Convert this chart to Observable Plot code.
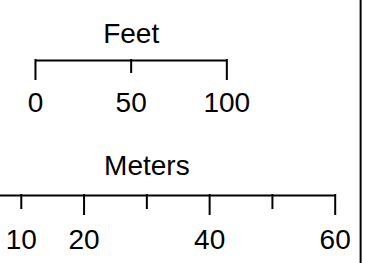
<!DOCTYPE html>
<html>
<head>
<meta charset="utf-8">
<script src="https://cdn.jsdelivr.net/npm/d3@7"></script>
<script src="https://cdn.jsdelivr.net/npm/@observablehq/plot@0.6"></script>
<style>
  html, body { margin: 0; padding: 0; background: #fff; }
  svg { display: block; }
</style>
</head>
<body>
<div id="chart"></div>
<script>
// Data
const feetTicks = [0, 50, 100];
const feetLabels = ["0", "50", "100"];
const meterTicks = [10, 20, 30, 40, 50, 60];
const meterLabels = [10, 20, 40, 60];
const feetTitle = "Feet";
const meterTitle = "Meters";

// layout (meters-based x scale)
const FT = 0.3048;
const feetOrigin = 12.26;           // where 0 ft sits on the meter axis
const toM = f => feetOrigin + f * FT;
const frameX = 64.05;

const font = "Arial, Liberation Sans, Helvetica, sans-serif";
const FS = 28;

const chart = Plot.plot({
  width: 367,
  height: 263,
  margin: 0,
  style: { fontFamily: font, background: "#fff" },
  x: { domain: [0, 60], range: [-42, 334.7], axis: null },
  y: { domain: [0, 263], range: [0, 263], axis: null },
  marks: [
    // Feet bar
    Plot.ruleY([60], { x1: toM(0), x2: toM(100), stroke: "#000", strokeWidth: 2 }),
    Plot.ruleX(feetTicks, { x: d => toM(d), y1: 59, y2: d => (d === 50 ? 73 : 80), stroke: "#000", strokeWidth: 2 }),
    Plot.text(feetTicks, { x: d => toM(d), y: 102.5, text: (d, i) => feetLabels[i], fontSize: FS, fill: "#000" }),
    Plot.text([feetTitle], { x: toM(50), y: 33.5, text: d => d, fontSize: FS, fill: "#000" }),
    // Meters bar
    Plot.ruleY([195], { x1: 0, x2: 60, stroke: "#000", strokeWidth: 2 }),
    Plot.ruleX(meterTicks, { x: d => d, y1: 194, y2: d => (d % 20 === 0 ? 215 : 209), stroke: "#000", strokeWidth: 2 }),
    Plot.text(meterLabels, { x: d => d, y: 240, text: d => String(d), fontSize: FS, fill: "#000" }),
    Plot.text([meterTitle], { x: 30, y: 166, text: d => d, fontSize: FS, fill: "#000" }),
    // frame edge
    Plot.ruleX([frameX], { y1: 0, y2: 263, stroke: "#000", strokeWidth: 2 })
  ]
});
document.getElementById("chart").appendChild(chart);
</script>
</body>
</html>
